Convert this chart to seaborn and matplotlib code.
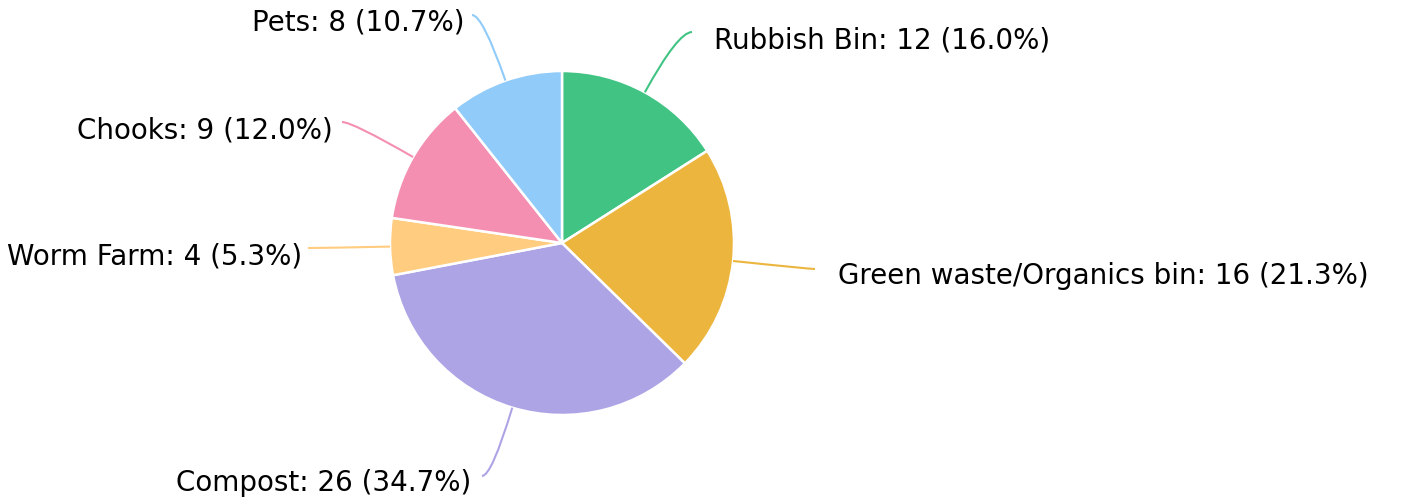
import matplotlib
matplotlib.use('Agg')
import matplotlib.pyplot as plt
import seaborn as sns
import numpy as np
from matplotlib.path import Path
from matplotlib.patches import PathPatch

# data
categories = ['Rubbish Bin', 'Green waste/Organics bin', 'Compost', 'Worm Farm', 'Chooks', 'Pets']
counts = [12, 16, 26, 4, 9, 8]
colors = ['#41c483', '#ecb53e', '#ada4e6', '#ffcc80', '#f48fb1', '#90cbf9']

# layout (pixel coords, y measured from top)
W, H = 1405, 502
clip_w = 1382
center = (562, 244)
radius = 172
label_pos = [(714, 40), (838, 276), (471, 483), (302, 256), (333, 131), (464, 22)]
line_end = [(692, 33), (815, 270), (482, 477), (308, 249), (342, 123), (472, 16)]

sns.set_theme(style="white")
plt.rcParams['font.family'] = ['DejaVu Sans']

fig = plt.figure(figsize=(W / 100, H / 100), dpi=100)
ax = fig.add_axes([0, 0, clip_w / W, 1])
ax.set_aspect('equal')
ax.axis('off')

wedges, _ = ax.pie(counts, colors=colors, startangle=90, counterclock=False,
                   center=(center[0], H - center[1]), radius=radius,
                   wedgeprops=dict(edgecolor='white', linewidth=1.8))
ax.set_xlim(0, clip_w)
ax.set_ylim(0, H)

total = sum(counts)
for w, cat, n, col, (lx, ly), (ex, ey) in zip(wedges, categories, counts, colors, label_pos, line_end):
    mid = np.deg2rad((w.theta1 + w.theta2) / 2)
    dx, dy = np.cos(mid), np.sin(mid)
    sx, sy = center[0] + radius * dx, (H - center[1]) + radius * dy
    ey_d = H - ey
    # control point: radial line meets the horizontal at the end
    if abs(dy) > 1e-3:
        t = (ey_d - sy) / dy
        cx = sx + t * dx
    else:
        cx = (sx + ex) / 2
    path = Path([(sx, sy), (cx, ey_d), (ex, ey_d)], [Path.MOVETO, Path.CURVE3, Path.CURVE3])
    ax.add_patch(PathPatch(path, facecolor='none', edgecolor=col, linewidth=1.5))
    ha = 'left' if lx > center[0] else 'right'
    ax.text(lx, H - ly, f'{cat}: {n} ({n / total * 100:.1f}%)', ha=ha, va='center',
            fontsize=20, color='black', clip_on=True)

fig.savefig('out.png', dpi=100)
